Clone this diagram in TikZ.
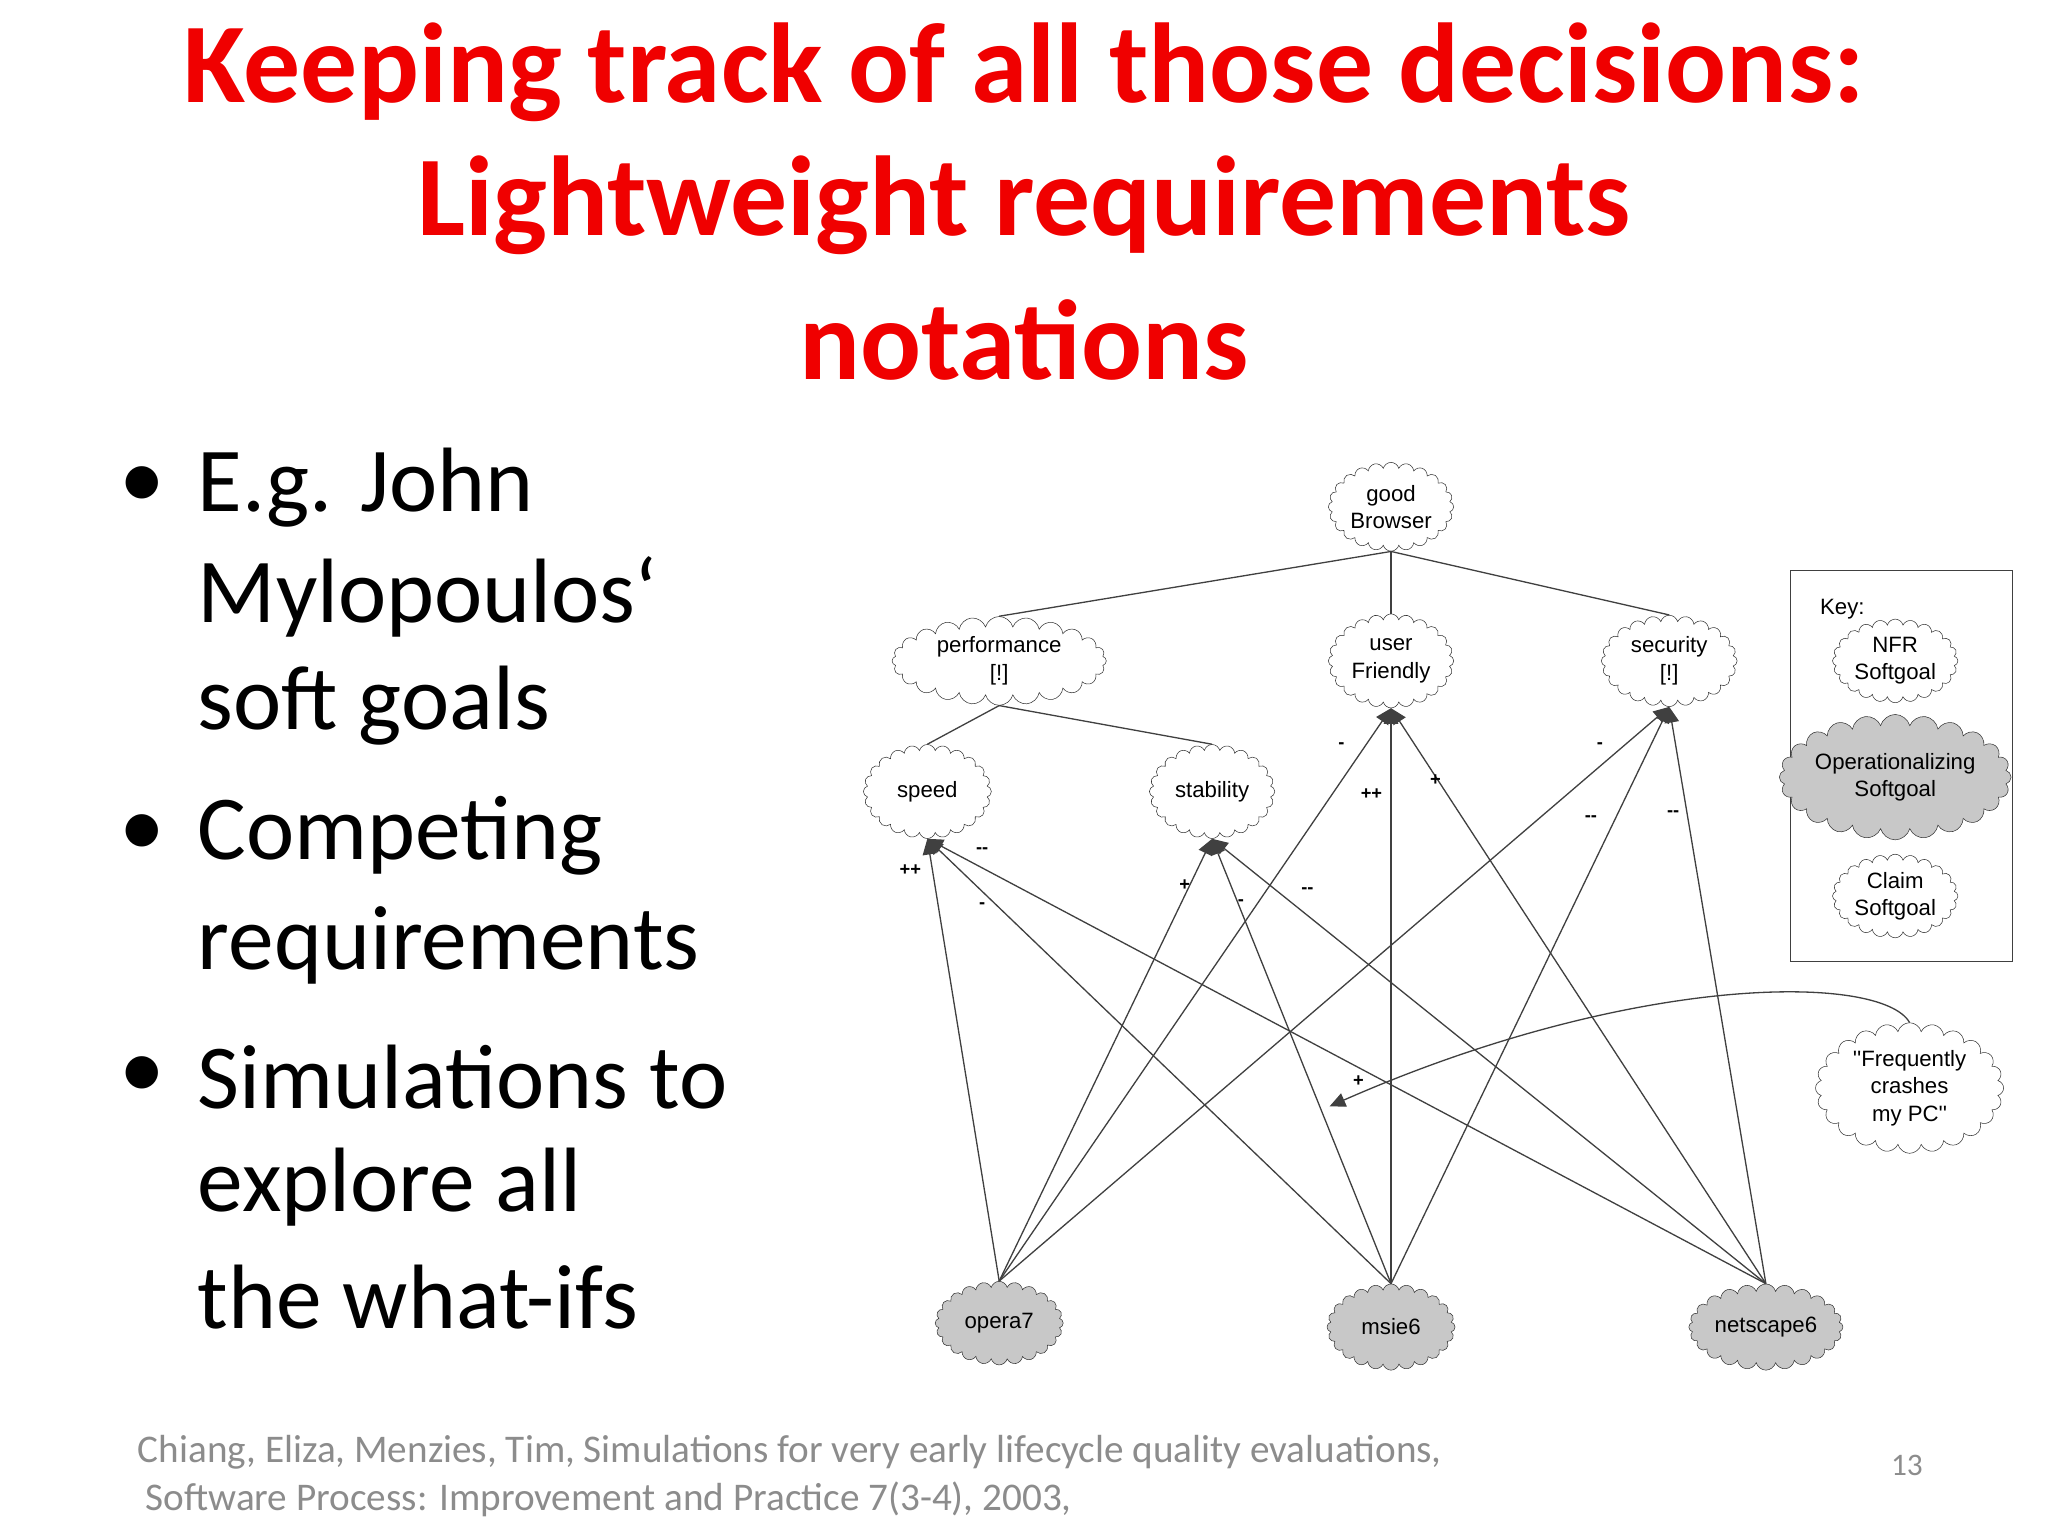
\documentclass[tikz,border=0pt]{standalone}
\usepackage{fontspec}
\setmainfont{Carlito}
\newfontfamily\diag{Liberation Sans}
\usetikzlibrary{shapes.symbols,arrows.meta}
\definecolor{tred}{RGB}{240,0,0}
\definecolor{gr}{RGB}{200,200,200}
\definecolor{foot}{RGB}{140,140,140}
\tikzset{
 sg/.style={draw=black!80,cloud,cloud puffs=24,cloud puff arc=150,cloud ignores aspect,fill=white,align=center,inner sep=0pt,font=\diag\fontsize{17}{21}\selectfont},
 op/.style={sg,fill=gr},
 ln/.style={draw=black!75,line width=1pt},
 ar/.style={ln,-{Triangle[length=12pt,width=11pt]}},
 lab/.style={font=\diag\bfseries\fontsize{14}{14}\selectfont},
 bul/.style={anchor=west,font=\fontsize{70}{76}\selectfont},
 ttl/.style={font=\bfseries\fontsize{87}{90}\selectfont,text=tred}
}
\begin{document}
\begin{tikzpicture}[x=1pt,y=-1pt]
\fill[white] (0,0) rectangle (1568,1176);
\useasboundingbox (0,0) rectangle (1568,1176);
% title
\node[ttl] (t1) at (784,55) {Keeping track of all those decisions:};
\node[ttl] (t2) at (784,157) {Lightweight requirements};
\node[ttl] (t3) at (784,260) {notations};
% bullets
\node[bul] (b1) at (88,373) {•};
\node[bul] (l1) at (148,373) {E.g. John};
\node[bul] (l2) at (148,457) {Mylopoulos‘};
\node[bul] (l3) at (148,540) {soft goals};
\node[bul] (b2) at (88,640) {•};
\node[bul] (l4) at (148,640) {Competing};
\node[bul] (l5) at (148,724) {requirements};
\node[bul] (b3) at (88,825) {•};
\node[bul] (l6) at (148,825) {Simulations to};
\node[bul] (l7) at (148,909) {explore all};
\node[bul] (l8) at (148,993) {the what-ifs};
% footer
\node[anchor=west,text=foot,font=\fontsize{30}{32}\selectfont] (f1) at (102,1112) {Chiang, Eliza, Menzies, Tim, Simulations for very early lifecycle quality evaluations,};
\node[anchor=west,text=foot,font=\fontsize{30}{32}\selectfont] (f2) at (108,1148) {Software Process: Improvement and Practice 7(3-4), 2003,};
\node[text=foot,font=\fontsize{24}{26}\selectfont] (pg) at (1460,1122) {13};
% key
\draw[ln] (1371,437) rectangle (1541,736);
\node[anchor=west,font=\diag\fontsize{17}{20}\selectfont] (key) at (1390,466) {Key:};
\node[sg,minimum width=96,minimum height=64] (nfr) at (1451,506) {NFR\\Softgoal};
\node[op,minimum width=150,minimum height=96] (ops) at (1451,595) {Operationalizing\\Softgoal};
\node[sg,minimum width=96,minimum height=64] (cl) at (1451,686) {Claim\\Softgoal};
% diagram nodes
\node[sg,minimum width=96,minimum height=68] (good) at (1065,388) {good\\Browser};
\node[sg,minimum width=164,minimum height=68] (perf) at (765,506) {performance\\{[!]}};
\node[sg,minimum width=96,minimum height=72] (uf) at (1065,506) {user\\Friendly};
\node[sg,minimum width=104,minimum height=70] (sec) at (1278,506) {security\\{[!]}};
\node[sg,minimum width=98,minimum height=72] (speed) at (710,606) {speed};
\node[sg,minimum width=96,minimum height=72] (stab) at (928,606) {stability};
\node[op,minimum width=98,minimum height=64] (opera) at (765,1013) {opera7};
\node[op,minimum width=98,minimum height=66] (msie) at (1065,1016) {msie6};
\node[op,minimum width=118,minimum height=66] (ns) at (1352,1016) {netscape6};
\node[sg,minimum width=144,minimum height=100] (freq) at (1462,833) {''Frequently\\crashes\\my PC''};
\coordinate (fc) at (1018,847);
% refinement lines
\draw[ln] (good.south) -- (perf.north);
\draw[ln] (good.south) -- (uf.north);
\draw[ln] (good.south) -- (sec.north);
\draw[ln] (perf.south) -- (speed.north);
\draw[ln] (perf.south) -- (stab.north);
% contributions
\foreach \s in {opera,msie,ns}{
 \draw[ar] (\s.north) -- (speed.south);
 \draw[ar] (\s.north) -- (stab.south);
 \draw[ar] (\s.north) -- (uf.south);
 \draw[ar] (\s.north) -- (sec.south);
}
\draw[ar] (freq.north) .. controls (1440,745) and (1250,745) .. (fc);
% labels
\node[lab] (a1) at (697,666) {++};
\node[lab] (a2) at (752,651) {-{}-};
\node[lab] (a3) at (752,693) {-};
\node[lab] (a4) at (907,678) {+};
\node[lab] (a5) at (950,691) {-};
\node[lab] (a6) at (1001,682) {-{}-};
\node[lab] (a7) at (1027,571) {-};
\node[lab] (a8) at (1050,608) {++};
\node[lab] (a9) at (1099,597) {+};
\node[lab] (a10) at (1225,571) {-};
\node[lab] (a11) at (1218,627) {-{}-};
\node[lab] (a12) at (1281,623) {-{}-};
\node[lab] (a13) at (1040,828) {+};
\end{tikzpicture}
\end{document}
